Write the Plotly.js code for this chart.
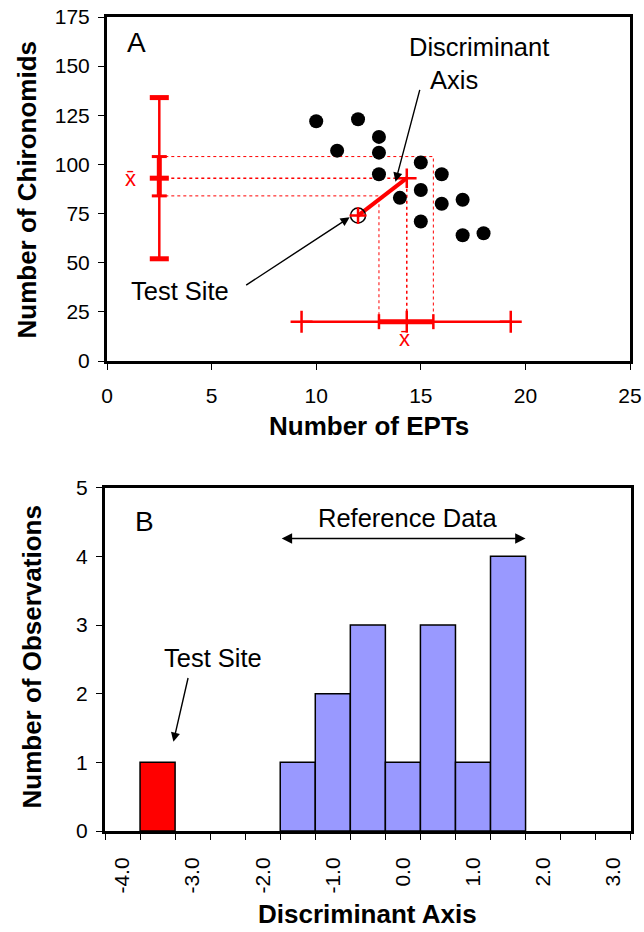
<!DOCTYPE html>
<html>
<head>
<meta charset="utf-8">
<script src="https://cdn.plot.ly/plotly-3.0.1.min.js"></script>
<style>html,body{margin:0;padding:0;background:#fff}#chart{width:644px;height:932px}</style>
</head>
<body>
<div id="chart"></div>
<script>
// ---- Panel A data ----
const eptRef = [10, 12, 11, 13, 13, 13, 14, 15, 15, 15, 16, 16, 17, 17, 18];
const chironRef = [122, 123, 107, 114, 106, 95, 83, 101, 87, 71, 95, 80, 82, 64, 65];
const testEPT = [12];
const testChiron = [74];
const eptMean = 14.33;
const chironMean = 93;
const chironBarX = 2.5;
const chironOuter = [52, 134];
const chironInner = [84, 104];
const eptBarY = 20;
const eptOuter = [9.3, 19.3];
const eptInner = [13.0, 15.6];

// ---- Panel B data ----
const refBinCenters = [-1.5, -1.0, -0.5, 0.0, 0.5, 1.0, 1.5];
const refCounts = [1, 2, 3, 1, 3, 1, 4];
const testBinCenter = [-3.5];
const testCount = [1];
const histTickVals = [-4, -3, -2, -1, 0, 1, 2, 3];
const histTickText = ['-4.0', '-3.0', '-2.0', '-1.0', '0.0', '1.0', '2.0', '3.0'];
const refSpan = [-1.75, 1.75];

const W = 644, H = 932;
const px = v => v / W;
const py = v => 1 - v / H;
const FONT = 'Liberation Sans, Arial, sans-serif';
const RED = '#FF0000';

const traces = [];
// dotted guide lines (horizontal from Y bar, vertical down to X bar)
const guideY = [chironInner[1], chironMean, chironInner[0]];
const guideX = [eptInner[1], eptMean, eptInner[0]];
for (let i = 0; i < 3; i++) {
  traces.push({x: [chironBarX, guideX[i], guideX[i]], y: [guideY[i], guideY[i], eptBarY],
    mode: 'lines', line: {color: RED, width: i === 1 ? 1.5 : 1, dash: 'dot'},
    xaxis: 'x', yaxis: 'y', hoverinfo: 'skip'});
}
// reference points
traces.push({x: eptRef, y: chironRef, mode: 'markers', type: 'scatter',
  marker: {symbol: 'circle', size: 14, color: '#000'}, xaxis: 'x', yaxis: 'y'});
// Y range bar
traces.push({x: [chironBarX, chironBarX], y: chironOuter, mode: 'lines+markers',
  line: {color: RED, width: 2.5},
  marker: {symbol: 'line-ew', size: 13.6, color: RED, line: {color: RED, width: 5}}, xaxis: 'x', yaxis: 'y'});
traces.push({x: [chironBarX, chironBarX], y: chironInner, mode: 'lines+markers',
  line: {color: RED, width: 5},
  marker: {symbol: 'line-ew', size: 10.7, color: RED, line: {color: RED, width: 3}}, xaxis: 'x', yaxis: 'y'});
traces.push({x: [chironBarX], y: [chironMean], mode: 'markers',
  marker: {symbol: 'line-ew', size: 13.6, color: RED, line: {color: RED, width: 5}}, xaxis: 'x', yaxis: 'y'});
// X range bar
traces.push({x: eptOuter, y: [eptBarY, eptBarY], mode: 'lines+markers',
  line: {color: RED, width: 2.5},
  marker: {symbol: 'cross-thin', size: 15.7, color: RED, line: {color: RED, width: 2.5}}, xaxis: 'x', yaxis: 'y'});
traces.push({x: eptInner, y: [eptBarY, eptBarY], mode: 'lines+markers',
  line: {color: RED, width: 5},
  marker: {symbol: 'line-ns', size: 10.7, color: RED, line: {color: RED, width: 2.5}}, xaxis: 'x', yaxis: 'y'});
traces.push({x: [eptMean], y: [eptBarY], mode: 'markers',
  marker: {symbol: 'line-ns', size: 15.7, color: RED, line: {color: RED, width: 2.5}}, xaxis: 'x', yaxis: 'y'});
// discriminant axis
traces.push({x: [testEPT[0], eptMean], y: [testChiron[0], chironMean], mode: 'lines',
  line: {color: RED, width: 4}, xaxis: 'x', yaxis: 'y'});
// test site
traces.push({x: testEPT, y: testChiron, mode: 'markers',
  marker: {symbol: 'circle-open', size: 15, color: '#000', line: {color: '#000', width: 1.5}}, xaxis: 'x', yaxis: 'y'});
traces.push({x: testEPT, y: testChiron, mode: 'markers',
  marker: {symbol: 'cross-thin', size: 12, color: RED, line: {color: RED, width: 2.5}}, xaxis: 'x', yaxis: 'y'});
// centroid
traces.push({x: [eptMean], y: [chironMean], mode: 'markers',
  marker: {symbol: 'cross-thin', size: 14, color: RED, line: {color: RED, width: 2.5}}, xaxis: 'x', yaxis: 'y'});

// Panel B histogram
traces.push({type: 'bar', x: refBinCenters, y: refCounts, width: 0.5,
  marker: {color: '#9999FF', line: {color: '#000', width: 1.5}}, xaxis: 'x2', yaxis: 'y2'});
traces.push({type: 'bar', x: testBinCenter, y: testCount, width: 0.5,
  marker: {color: RED, line: {color: '#000', width: 1.5}}, xaxis: 'x2', yaxis: 'y2'});

const axisCommon = {
  showline: true, mirror: true, linewidth: 3, linecolor: '#000',
  showgrid: false, zeroline: false, ticks: 'outside', ticklen: 6, tickwidth: 1,
  tickcolor: '#000', tickfont: {family: FONT, size: 21, color: '#000'}, fixedrange: true
};

const annFont = {family: FONT, size: 25.5, color: '#000'};
const titleFont = {family: FONT, size: 26, color: '#000', weight: 'bold'};
const C = {xanchor: 'center', yanchor: 'middle', showarrow: false};

const annotations = [
  Object.assign({xref: 'paper', yref: 'paper', x: px(136), y: py(42), text: 'A', font: {family: FONT, size: 28, color: '#000'}}, C),
  Object.assign({xref: 'paper', yref: 'paper', x: px(479), y: py(47), text: 'Discriminant', font: annFont}, C),
  Object.assign({xref: 'paper', yref: 'paper', x: px(454), y: py(80), text: 'Axis', font: annFont}, C),
  Object.assign({xref: 'paper', yref: 'paper', x: px(180), y: py(291), text: 'Test Site', font: annFont}, C),
  {xref: 'x', yref: 'y', axref: 'x', ayref: 'y', x: 13.79, y: 91.2, ax: 14.97, ay: 138.7, text: '',
    showarrow: true, arrowhead: 2, arrowsize: 1.3, arrowwidth: 1.4, arrowcolor: '#000', startstandoff: 0},
  {xref: 'x', yref: 'y', axref: 'x', ayref: 'y', x: 11.6, y: 73.1, ax: 6.58, ay: 38.1, text: '',
    showarrow: true, arrowhead: 2, arrowsize: 1.3, arrowwidth: 1.4, arrowcolor: '#000', startstandoff: 0},
  Object.assign({xref: 'x', yref: 'y', x: 1.14, y: chironMean, text: 'x\u0304', font: {family: FONT, size: 22, color: RED}}, C),
  Object.assign({xref: 'x', yref: 'y', x: 14.2, y: 11.5, text: 'x\u0304', font: {family: FONT, size: 22, color: RED}}, C),
  Object.assign({xref: 'paper', yref: 'paper', x: px(27), y: py(189.5), text: 'Number of Chironomids', textangle: -90, font: titleFont}, C),
  Object.assign({xref: 'paper', yref: 'paper', x: px(369), y: py(426), text: 'Number of EPTs', font: titleFont}, C),
  // Panel B
  Object.assign({xref: 'paper', yref: 'paper', x: px(144), y: py(521), text: 'B', font: {family: FONT, size: 28, color: '#000'}}, C),
  Object.assign({xref: 'paper', yref: 'paper', x: px(407), y: py(518), text: 'Reference Data', font: annFont}, C),
  {xref: 'x2', yref: 'y2', axref: 'x2', ayref: 'y2', x: refSpan[1], y: 4.26, ax: refSpan[0], ay: 4.26, text: '',
    showarrow: true, arrowhead: 2, arrowside: 'end+start', arrowsize: 1.3, arrowwidth: 1.6, arrowcolor: '#000', startstandoff: 0},
  Object.assign({xref: 'paper', yref: 'paper', x: px(212.5), y: py(657.5), text: 'Test Site', font: annFont}, C),
  {xref: 'x2', yref: 'y2', axref: 'x2', ayref: 'y2', x: -3.274, y: 1.30, ax: -3.06, ay: 2.25, text: '',
    showarrow: true, arrowhead: 2, arrowsize: 1.3, arrowwidth: 1.4, arrowcolor: '#000', startstandoff: 0},
  Object.assign({xref: 'paper', yref: 'paper', x: px(31), y: py(657.5), text: 'Number of Observations', textangle: -90, font: titleFont}, C),
  Object.assign({xref: 'paper', yref: 'paper', x: px(367), y: py(914), text: 'Discriminant Axis', font: titleFont}, C)
];

const layout = {
  width: W, height: H, margin: {l: 0, r: 0, t: 0, b: 0},
  paper_bgcolor: '#fff', plot_bgcolor: '#fff', showlegend: false, barmode: 'overlay',
  font: {family: FONT, color: '#000'},
  xaxis: Object.assign({}, axisCommon, {domain: [px(107), px(630)], range: [0, 25], dtick: 5, tick0: 0, anchor: 'y', ticklabelstandoff: 8}),
  yaxis: Object.assign({}, axisCommon, {domain: [py(361), py(17)], range: [0, 175], dtick: 25, tick0: 0, anchor: 'x', ticklabelstandoff: 4}),
  xaxis2: Object.assign({}, axisCommon, {domain: [px(105), px(630.7)], range: [-4.25, 3.25], anchor: 'y2',
    tickmode: 'array', tickvals: histTickVals, ticktext: histTickText, tickangle: -90, ticklen: 0, tickcolor: 'rgba(0,0,0,0)',
    ticklabelstandoff: 15,
    tickfont: {family: FONT, size: 21, color: '#000'},
    minor: {tick0: -4.25, dtick: 0.5, ticks: 'outside', ticklen: 6, tickwidth: 1, tickcolor: '#000', showgrid: false}}),
  yaxis2: Object.assign({}, axisCommon, {domain: [py(831), py(487.7)], range: [0, 5], dtick: 1, tick0: 0, anchor: 'x2', ticklabelstandoff: 4}),
  annotations: annotations
};

Plotly.newPlot('chart', traces, layout, {displayModeBar: false, staticPlot: true});
</script>
</body>
</html>
